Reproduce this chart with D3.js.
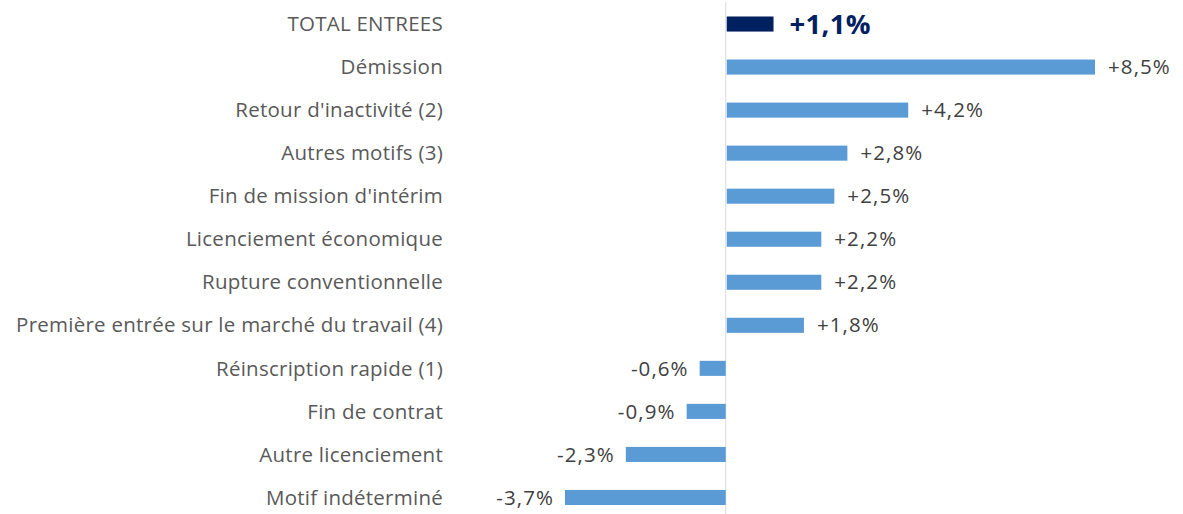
<!DOCTYPE html>
<html>
<head>
<meta charset="utf-8">
<script src="https://cdn.jsdelivr.net/npm/d3@7"></script>
<style>
  body { margin: 0; background: #fff; }
  text { font-family: "Open Sans", sans-serif; }
</style>
</head>
<body>
<script>
"use strict";
// categories, top to bottom
const categories = [
    "TOTAL ENTREES",
    "Démission",
    "Retour d'inactivité (2)",
    "Autres motifs (3)",
    "Fin de mission d'intérim",
    "Licenciement économique",
    "Rupture conventionnelle",
    "Première entrée sur le marché du travail (4)",
    "Réinscription rapide (1)",
    "Fin de contrat",
    "Autre licenciement",
    "Motif indéterminé"
]
const values = [1.1, 8.5, 4.2, 2.8, 2.5, 2.2, 2.2, 1.8, -0.6, -0.9, -2.3, -3.7]
const valueLabels = ["+1,1%", "+8,5%", "+4,2%", "+2,8%", "+2,5%", "+2,2%", "+2,2%", "+1,8%", "-0,6%", "-0,9%", "-2,3%", "-3,7%"]

const measurements = {
    width: 1183,
    height: 514
}

const svg = d3.select("body").append("svg")
    .attr("width", measurements.width)
    .attr("height", measurements.height)

// x scale: zero line sits at ~726px
const scaleX = d3.scaleLinear()
    .domain([-3.7, 8.5])
    .range([565, 1095])

const scaleY = d3.scaleBand()
    .domain(categories)
    .range([2.5, 519])
    .paddingInner(0.65)
    .paddingOuter(0.325)

// vertical zero line
svg.append("line")
    .attr("x1", scaleX(0)).attr("x2", scaleX(0))
    .attr("y1", 2).attr("y2", measurements.height)
    .attr("stroke", "#d9d9d9")
    .attr("stroke-width", 1)

const rows = categories.map((c, i) => ({ cat: c, v: values[i], label: valueLabels[i], total: i === 0 }))

svg.selectAll(".bar")
    .data(rows)
    .enter()
    .append("rect")
    .attr("class", "bar")
    .attr("x", d => scaleX(Math.min(0, d.v)) + (d.v > 0 ? 1 : 0))
    .attr("y", d => scaleY(d.cat))
    .attr("width", d => Math.abs(scaleX(d.v) - scaleX(0)) - (d.v > 0 ? 1 : 0))
    .attr("height", scaleY.bandwidth())
    .attr("fill", d => d.total ? "#002060" : "#5b9bd5")

// category labels
svg.selectAll(".cat")
    .data(rows)
    .enter()
    .append("text")
    .attr("class", "cat")
    .attr("x", 443)
    .attr("y", d => scaleY(d.cat) + scaleY.bandwidth() / 2)
    .attr("dy", "0.35em")
    .attr("text-anchor", "end")
    .attr("fill", "#595959")
    .style("font-size", "20.5px")
    .style("letter-spacing", "0.25px")
    .text(d => d.cat)

// value labels
svg.selectAll(".val")
    .data(rows)
    .enter()
    .append("text")
    .attr("class", "val")
    .attr("x", d => d.v >= 0 ? scaleX(d.v) + (d.total ? 16 : 13) : scaleX(d.v) - 11)
    .attr("y", d => scaleY(d.cat) + scaleY.bandwidth() / 2)
    .attr("dy", "0.35em")
    .attr("text-anchor", d => d.v >= 0 ? "start" : "end")
    .attr("fill", d => d.total ? "#002060" : "#404040")
    .style("font-size", d => d.total ? "27.5px" : "20.5px")
    .style("letter-spacing", d => d.total ? "0.3px" : "1.1px")
    .style("font-weight", d => d.total ? "bold" : "normal")
    .text(d => d.label)
</script>
</body>
</html>
